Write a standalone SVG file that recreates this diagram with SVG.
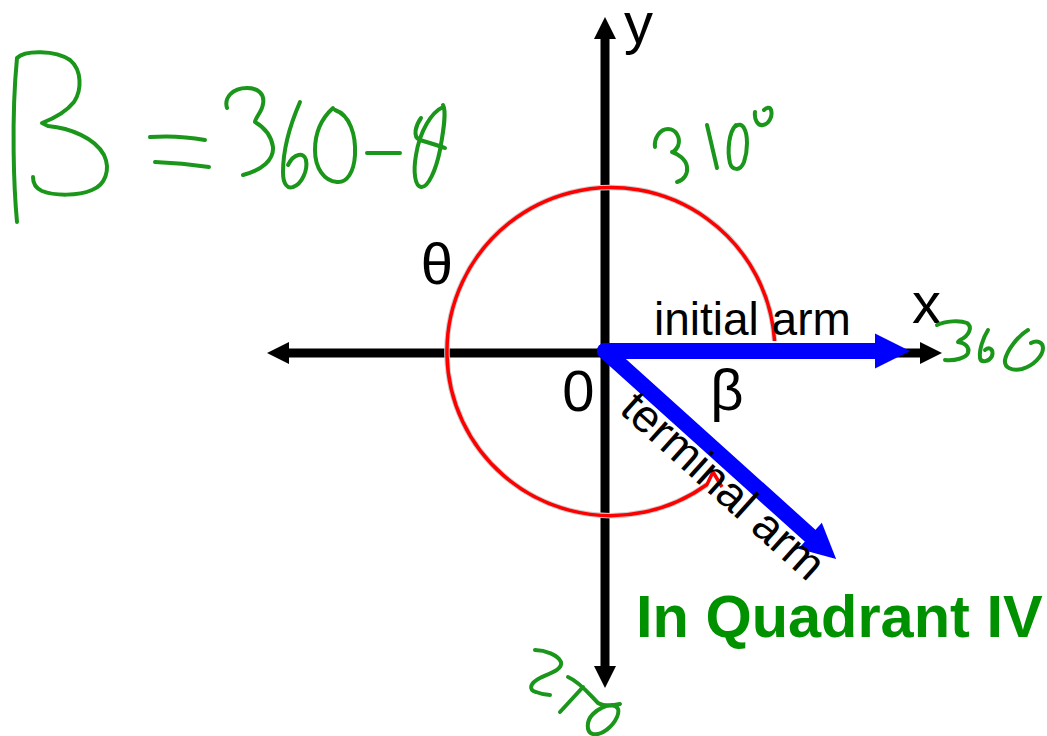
<svg xmlns="http://www.w3.org/2000/svg" width="1047" height="736" viewBox="0 0 1047 736">
<style>
.lbl{font-family:"Liberation Sans",Arial,sans-serif;fill:#000}
.big{font-size:58px}
.arm{font-size:46px}
.hand{fill:none;stroke:#1a961a;stroke-width:4;stroke-linecap:round;stroke-linejoin:round}
.ax{stroke:#000;stroke-width:9}
.blue{stroke:#0000ff;stroke-width:16;stroke-linecap:round}
</style>
<rect width="1047" height="736" fill="#fff"/>
<g id="axes">
  <line class="ax" x1="288" y1="353" x2="921" y2="353"/>
  <polygon points="267,353 289,342 289,364" fill="#000"/>
  <polygon points="942,353 920,342 920,364" fill="#000"/>
  <line class="ax" x1="605" y1="38" x2="605" y2="667"/>
  <polygon points="605,17 594,39 616,39" fill="#000"/>
  <polygon points="605,688 594,666 616,666" fill="#000"/>
</g>
<g id="angle-arc">
  <path d="M774.6,341 A164,164 0 1 0 707,484.5" fill="none" stroke="#cccccc" stroke-width="5.5"/>
  <path d="M774.6,341 A164,164 0 1 0 707,484.5 L713,472 L722,487" fill="none" stroke="#ff0000" stroke-width="3.5" stroke-linejoin="round"/>
</g>
<g id="connectors">
  <g id="initial-arm">
    <line class="blue" x1="605" y1="351" x2="880" y2="351"/>
    <polygon points="910,351 875,333.5 875,368.5" fill="#0000ff"/>
  </g>
  <g id="terminal-arm" transform="translate(605,351) rotate(42)">
    <line class="blue" x1="0" y1="0" x2="280" y2="0"/>
    <polygon points="311,0 276,-17.5 276,17.5" fill="#0000ff"/>
  </g>
</g>
<g id="labels">
  <text class="lbl big" x="638.5" y="43" text-anchor="middle">y</text>
  <text class="lbl big" x="926.5" y="323" text-anchor="middle">x</text>
  <text class="lbl big" x="437" y="284" text-anchor="middle">θ</text>
  <text class="lbl big" x="578.5" y="411" text-anchor="middle">0</text>
  <text class="lbl big" x="727" y="410" text-anchor="middle">β</text>
  <text class="lbl arm" x="654" y="335">initial arm</text>
  <text class="lbl arm" transform="translate(713,497) rotate(42)" text-anchor="middle">terminal arm</text>
  <text x="636" y="637" font-family="Liberation Sans,Arial,sans-serif" font-size="59.5" font-weight="bold" fill="#009100">In Quadrant IV</text>
</g>
<g id="handwriting">
  <g id="formula">
    <path class="hand" d="M17,222 C14,190 11,120 17,58 C25,50 55,50 70,60 C82,70 82,90 74,102 C66,112 55,118 42,123 L48,126 C70,128 95,138 104,155 C111,170 105,185 92,190 C78,196 55,196 42,191 C35,188 33,183 33,177"/>
    <path class="hand" d="M150,137 Q178,135 205,140 M155,162 Q182,163 209,167"/>
    <path class="hand" d="M227,108 C224,98 232,88 247,88 C258,88 265,94 263,104 C262,112 255,118 255,122 C262,126 271,134 273,147 C274,160 262,170 243,175"/>
    <path class="hand" d="M300,102 C290,125 283,150 283,172 C283,185 288,189 293,187 C302,184 308,170 306,160 C304,152 294,153 288,165"/>
    <path class="hand" d="M335,110 C350,115 356,135 355,155 C354,172 347,183 337,182 C324,181 315,168 315,150 C315,132 322,118 333,108"/>
    <path class="hand" d="M367,153 L400,153"/>
    <path class="hand" d="M443,107 C432,112 420,130 416,155 C413,172 415,186 421,187 C428,188 436,170 440,150 C443,133 447,112 443,105 M421,118 C416,125 412,137 420,140 C430,143 440,146 445,148"/>
  </g>
  <g id="deg310">
    <path class="hand" d="M655,147 C654,138 660,129 668,129 C676,129 681,138 678,146 C676,150 673,152 672,152 C678,154 686,159 687,167 C688,174 684,180 677,182"/>
    <path class="hand" d="M707,125 L717,168"/>
    <path class="hand" d="M736,125 C729,132 727,150 730,163 C732,170 740,172 744,162 C748,150 748,135 744,128 C742,124 738,124 736,126"/>
    <path class="hand" d="M755,112 C754,120 758,126 763,125 C769,124 773,116 771,110 C770,106 766,108 764,110"/>
  </g>
  <g id="deg360">
    <path class="hand" d="M937,325 C945,321 960,320 967,323 C973,327 969,336 960,340 L958,342 C965,343 970,347 968,353 C966,358 955,361 945,360"/>
    <path class="hand" d="M988,330 C983,338 979,350 980,358 C981,363 989,362 992,356 C994,350 990,346 985,350"/>
    <path class="hand" d="M1028,330 C1018,336 1007,350 1005,360 C1004,368 1012,371 1022,369 C1033,366 1043,356 1043,348 C1043,342 1037,340 1031,343"/>
  </g>
  <g id="deg270">
    <path class="hand" d="M535,650 C545,650 558,655 561,662 C563,670 548,674 540,678 C530,683 528,690 536,692 C541,694 546,695 550,695"/>
    <path class="hand" d="M568,677 C580,682 590,695 598,703 C605,707 612,706 620,704 M583,687 L560,712"/>
    <path class="hand" d="M612,705 C606,705 598,709 593,714 C586,721 586,732 593,734 C602,736 613,726 617,717 C620,710 618,706 612,705"/>
  </g>
</g>
</svg>
